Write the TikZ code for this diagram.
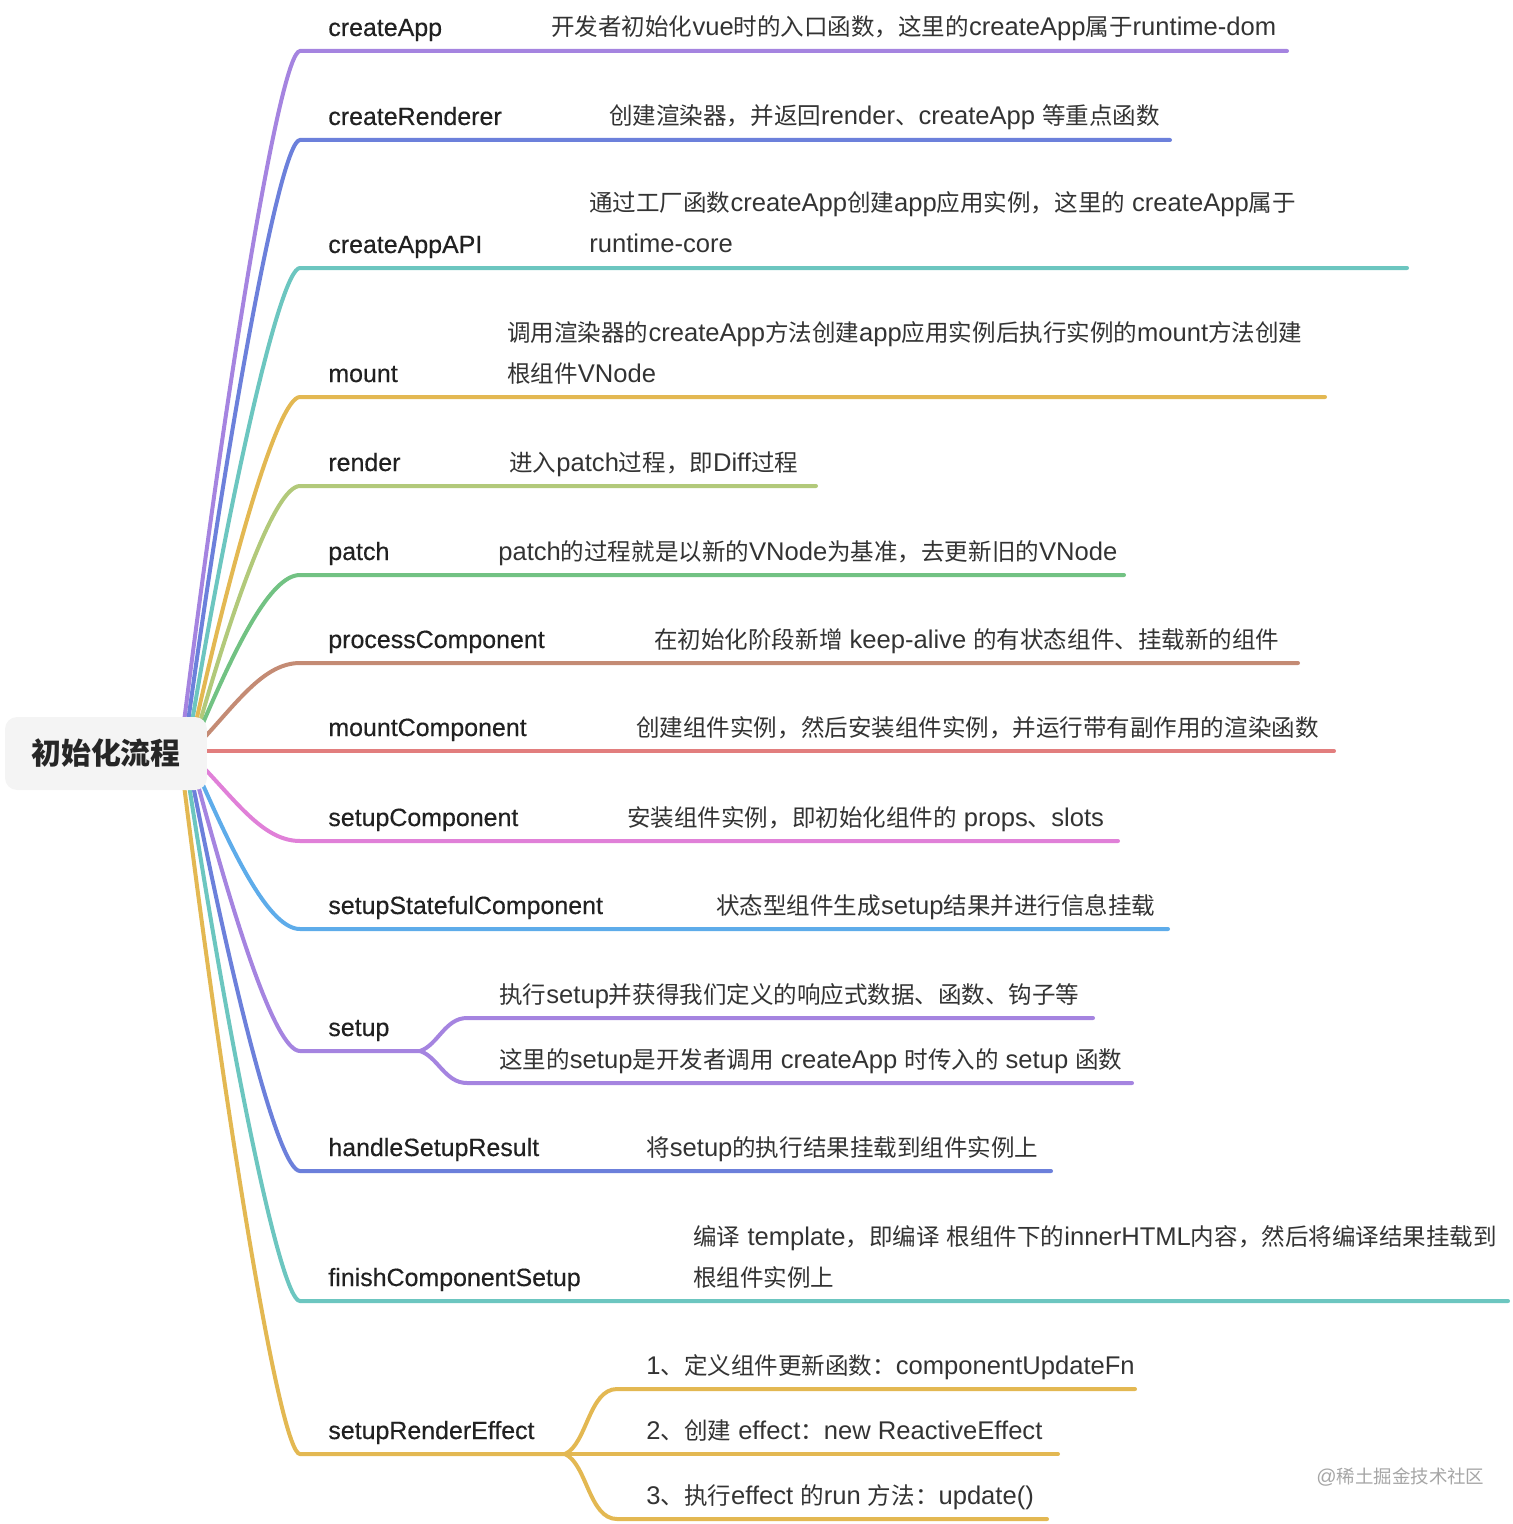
\documentclass[tikz,border=0pt]{standalone}
\usepackage{fontspec}
\setmainfont{Liberation Sans}
\newfontfamily\latinfont[Scale=1.12]{Liberation Sans}
\newfontfamily\lbllatin[FakeBold=0.4]{Liberation Sans}
\newfontfamily\cjkfont[Scale=1.03]{Noto Sans CJK SC}
\XeTeXinterchartokenstate=1
\newXeTeXintercharclass\cjkclass
\newcount\cjkcode
\cjkcode="3000 \loop\XeTeXcharclass\cjkcode=\cjkclass \advance\cjkcode by 1 \ifnum\cjkcode<"3040 \repeat
\cjkcode="4E00 \loop\XeTeXcharclass\cjkcode=\cjkclass \advance\cjkcode by 1 \ifnum\cjkcode<"A000 \repeat
\cjkcode="FF00 \loop\XeTeXcharclass\cjkcode=\cjkclass \advance\cjkcode by 1 \ifnum\cjkcode<"FFF0 \repeat
\XeTeXinterchartoks 0 \cjkclass = {\cjkfont}
\XeTeXinterchartoks 4095 \cjkclass = {\cjkfont}
\XeTeXinterchartoks \cjkclass 0 = {\latinfont}
\XeTeXinterchartoks \cjkclass 4095 = {\latinfont}
\definecolor{cPurple}{HTML}{A584E0}
\definecolor{cIndigo}{HTML}{6C80DB}
\definecolor{cTeal}{HTML}{6CC6C0}
\definecolor{cGold}{HTML}{E3B852}
\definecolor{cLime}{HTML}{B2C97A}
\definecolor{cGreen}{HTML}{72C283}
\definecolor{cBrown}{HTML}{C48B74}
\definecolor{cRed}{HTML}{E27E7E}
\definecolor{cPink}{HTML}{E080D8}
\definecolor{cSky}{HTML}{5EACEA}
\definecolor{rootgray}{HTML}{F4F4F4}
\tikzset{
  root/.style={fill=rootgray, rounded corners=0.24cm, minimum width=4.04cm, minimum height=1.46cm,
    font=\cjkfont\bfseries\fontsize{16.5}{20}\selectfont, text=black!85},
  lbl/.style={anchor=base west, inner sep=0pt, font=\lbllatin\fontsize{14.2}{16}\selectfont, text=black!87},
  dsc/.style={anchor=base west, inner sep=0pt, font=\latinfont\fontsize{13}{16}\selectfont, text=black!80},
  edge/.style={line width=0.08cm, line cap=round}
}
\begin{document}
\begin{tikzpicture}[x=0.02cm, y=-0.02cm]
\useasboundingbox (0,0) rectangle (1512,1524);

\coordinate (createAppS) at (184,722);
\coordinate (createAppK) at (300,51);
\coordinate (createAppE) at (1287,51);
\coordinate (createRendererS) at (188,722);
\coordinate (createRendererK) at (300,140);
\coordinate (createRendererE) at (1170,140);
\coordinate (createAppAPIS) at (192,722);
\coordinate (createAppAPIK) at (300,268);
\coordinate (createAppAPIE) at (1407,268);
\coordinate (mountS) at (196,722);
\coordinate (mountK) at (300,397);
\coordinate (mountE) at (1325,397);
\coordinate (renderS) at (200,722);
\coordinate (renderK) at (300,486);
\coordinate (renderE) at (816,486);
\coordinate (patchS) at (203,723);
\coordinate (patchK) at (300,575);
\coordinate (patchE) at (1124,575);
\coordinate (processS) at (204,738);
\coordinate (processK) at (300,663);
\coordinate (processE) at (1298,663);
\coordinate (mountCompS) at (204,751);
\coordinate (mountCompE) at (1334,751);
\coordinate (setupCompS) at (204,768);
\coordinate (setupCompK) at (300,841);
\coordinate (setupCompE) at (1118,841);
\coordinate (statefulS) at (203,785);
\coordinate (statefulK) at (300,929);
\coordinate (statefulE) at (1168,929);
\coordinate (setupS) at (198,785);
\coordinate (setupK) at (300,1051);
\coordinate (setupJ) at (420,1051);
\coordinate (setupAK) at (467,1018);
\coordinate (setupAE) at (1093,1018);
\coordinate (setupBK) at (467,1083);
\coordinate (setupBE) at (1132,1083);
\coordinate (handleS) at (193,785);
\coordinate (handleK) at (300,1171);
\coordinate (handleE) at (1051,1171);
\coordinate (finishS) at (189,785);
\coordinate (finishK) at (300,1301);
\coordinate (finishE) at (1508,1301);
\coordinate (effectS) at (184,785);
\coordinate (effectK) at (300,1454);
\coordinate (effectJ) at (565,1454);
\coordinate (effectAK) at (617,1389);
\coordinate (effectAE) at (1135,1389);
\coordinate (effectBE) at (1058,1454);
\coordinate (effectCK) at (617,1519);
\coordinate (effectCE) at (1047,1519);

\draw[edge, cPurple] (createAppS) .. controls +(42,-335) and +(-20,0) .. (createAppK) -- (createAppE);
\draw[edge, cIndigo] (createRendererS) .. controls +(40,-290) and +(-20,0) .. (createRendererK) -- (createRendererE);
\draw[edge, cTeal] (createAppAPIS) .. controls +(38,-227) and +(-20,0) .. (createAppAPIK) -- (createAppAPIE);
\draw[edge, cGold] (mountS) .. controls +(36,-162) and +(-22,0) .. (mountK) -- (mountE);
\draw[edge, cLime] (renderS) .. controls +(34,-118) and +(-25,0) .. (renderK) -- (renderE);
\draw[edge, cGreen] (patchS) .. controls +(32,-74) and +(-30,0) .. (patchK) -- (patchE);
\draw[edge, cBrown] (processS) .. controls +(35,-38) and +(-35,0) .. (processK) -- (processE);
\draw[edge, cRed] (mountCompS) -- (mountCompE);
\draw[edge, cPink] (setupCompS) .. controls +(35,37) and +(-35,0) .. (setupCompK) -- (setupCompE);
\draw[edge, cSky] (statefulS) .. controls +(32,72) and +(-30,0) .. (statefulK) -- (statefulE);
\draw[edge, cPurple] (setupS) .. controls +(36,133) and +(-25,0) .. (setupK) -- (setupJ);
\draw[edge, cPurple] (setupJ) .. controls +(18,-6) and +(-22,0) .. (setupAK) -- (setupAE);
\draw[edge, cPurple] (setupJ) .. controls +(18,6) and +(-22,0) .. (setupBK) -- (setupBE);
\draw[edge, cIndigo] (handleS) .. controls +(38,193) and +(-22,0) .. (handleK) -- (handleE);
\draw[edge, cTeal] (finishS) .. controls +(40,258) and +(-20,0) .. (finishK) -- (finishE);
\draw[edge, cGold] (effectS) .. controls +(42,335) and +(-20,0) .. (effectK) -- (effectJ);
\draw[edge, cGold] (effectJ) .. controls +(22,-10) and +(-28,0) .. (effectAK) -- (effectAE);
\draw[edge, cGold] (effectJ) -- (effectBE);
\draw[edge, cGold] (effectJ) .. controls +(22,10) and +(-28,0) .. (effectCK) -- (effectCE);

\node[root] (root) at (106,753.5) {初始化流程};

\node[lbl] (createApp) at (328,36) {createApp};
\node[dsc] (createAppD) at (551,36) {开发者初始化vue时的入口函数，这里的createApp属于runtime-dom};
\node[lbl] (createRenderer) at (328,125) {createRenderer};
\node[dsc] (createRendererD) at (609,125) {创建渲染器，并返回render、createApp 等重点函数};
\node[lbl] (createAppAPI) at (328,253) {createAppAPI};
\node[dsc] (createAppAPID) at (589,212) {通过工厂函数createApp创建app应用实例，这里的 createApp属于};
\node[dsc] (createAppAPID2) at (589,253) {runtime-core};
\node[lbl] (mount) at (328,382) {mount};
\node[dsc] (mountD) at (507,341) {调用渲染器的createApp方法创建app应用实例后执行实例的mount方法创建};
\node[dsc] (mountD2) at (507,382) {根组件VNode};
\node[lbl] (render) at (328,471) {render};
\node[dsc] (renderD) at (509,471) {进入patch过程，即Diff过程};
\node[lbl] (patch) at (328,560) {patch};
\node[dsc] (patchD) at (498,560) {patch的过程就是以新的VNode为基准，去更新旧的VNode};
\node[lbl] (processComponent) at (328,648) {processComponent};
\node[dsc] (processComponentD) at (654,648) {在初始化阶段新增 keep-alive 的有状态组件、挂载新的组件};
\node[lbl] (mountComponent) at (328,736) {mountComponent};
\node[dsc] (mountComponentD) at (636,736) {创建组件实例，然后安装组件实例，并运行带有副作用的渲染函数};
\node[lbl] (setupComponent) at (328,826) {setupComponent};
\node[dsc] (setupComponentD) at (627,826) {安装组件实例，即初始化组件的 props、slots};
\node[lbl] (setupStatefulComponent) at (328,914) {setupStatefulComponent};
\node[dsc] (setupStatefulComponentD) at (716,914) {状态型组件生成setup结果并进行信息挂载};
\node[lbl] (setup) at (328,1036) {setup};
\node[dsc] (setupD) at (499,1003) {执行setup并获得我们定义的响应式数据、函数、钩子等};
\node[dsc] (setupD2) at (499,1068) {这里的setup是开发者调用 createApp 时传入的 setup 函数};
\node[lbl] (handleSetupResult) at (328,1156) {handleSetupResult};
\node[dsc] (handleSetupResultD) at (646,1156) {将setup的执行结果挂载到组件实例上};
\node[lbl] (finishComponentSetup) at (328,1286) {finishComponentSetup};
\node[dsc] (finishComponentSetupD) at (693,1245) {编译 template，即编译 根组件下的innerHTML内容，然后将编译结果挂载到};
\node[dsc] (finishComponentSetupD2) at (693,1286) {根组件实例上};
\node[lbl] (setupRenderEffect) at (328,1439) {setupRenderEffect};
\node[dsc] (effectD) at (646,1374) {1、定义组件更新函数：componentUpdateFn};
\node[dsc] (effectD2) at (646,1439) {2、创建 effect：new ReactiveEffect};
\node[dsc] (effectD3) at (646,1504) {3、执行effect 的run 方法：update()};

\node[anchor=west, inner sep=0pt, font=\latinfont\fontsize{10.2}{12}\selectfont, text=black!35] (mark) at (1316,1477) {@稀土掘金技术社区};
\end{tikzpicture}
\end{document}
